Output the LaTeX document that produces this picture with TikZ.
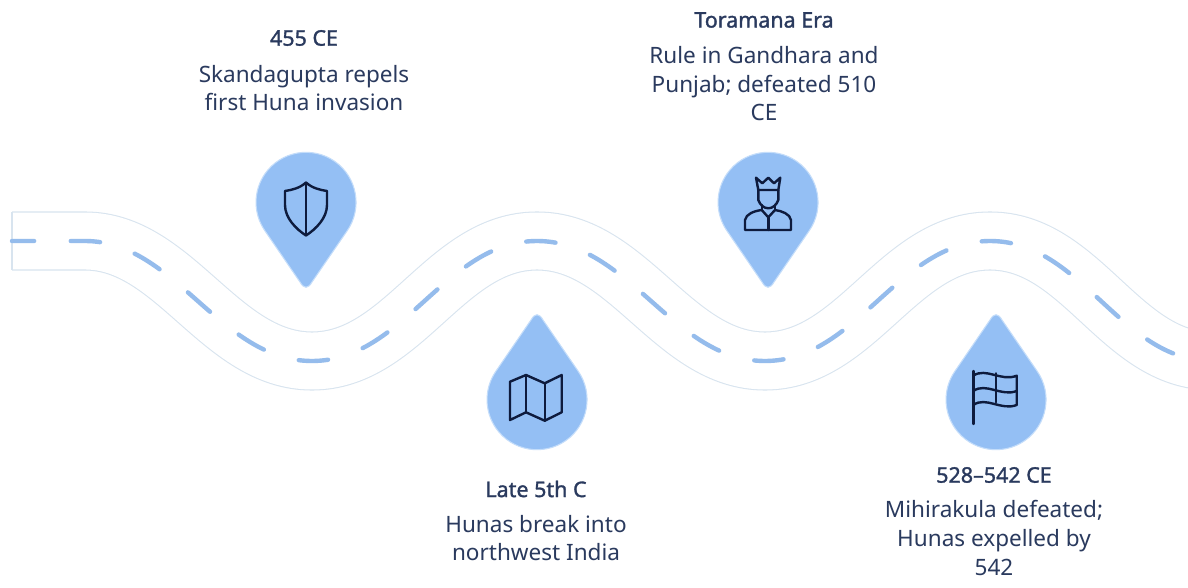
\documentclass[tikz,border=0pt]{standalone}
\usepackage{fontspec}
\setmainfont{Noto Sans}
\newfontfamily\headfont[FakeBold=1.4]{Noto Sans}
\usetikzlibrary{positioning}
\definecolor{pinblue}{HTML}{94BFF4}
\definecolor{pinrim}{HTML}{C4DDFA}
\definecolor{dashblue}{HTML}{95BCEC}
\definecolor{roadrim}{HTML}{D8E4EF}
\definecolor{inkdark}{HTML}{0E1B3D}
\definecolor{txt}{HTML}{2A3A5E}
\tikzset{
    pin/.pic={
        \draw[pinrim, fill=pinblue, line width=0.8pt] (41,29) arc (35:-215:50) -- (-6,80) .. controls (-2,87) and (2,87) .. (6,80) -- cycle;
    },
    shieldicon/.pic={
        \draw[icon] (0,-19.5) .. controls (-6,-14) and (-14,-12) .. (-21,-11) -- (-21,3) .. controls (-21,16) and (-10,27) .. (0,33.5) .. controls (10,27) and (21,16) .. (21,3) -- (21,-11) .. controls (14,-12) and (6,-14) .. (0,-19.5) -- cycle;
        \draw[icon] (0,-19.5) -- (0,33.5);
    },
    kingicon/.pic={
        \draw[icon] (-9.7,-12) -- (-12,-24.3) -- (-5.7,-18.7) -- (0.3,-24.3) -- (6,-18.7) -- (12.3,-24.3) -- (10.3,-12) -- cycle;
        \draw[icon] (-9.7,-12) -- (-9.7,-2) .. controls (-8,3) and (-4,6.3) .. (0.3,6.3) .. controls (4.6,6.3) and (8.6,3) .. (10.3,-2) -- (10.3,-12);
        \draw[icon] (-23,28) -- (-23,18) .. controls (-22,12) and (-14,9) .. (-6.3,8) -- (0.3,15.3) -- (7,8) .. controls (14,9) and (22,12) .. (23,18) -- (23,28) -- cycle;
        \draw[icon] (0.3,15.3) -- (0.3,28);
        \draw[icon] (-6.3,8) -- (-6.3,3) (7,8) -- (7,3);
    },
    mapicon/.pic={
        \draw[icon] (-27,-18.3) -- (-11,-25) -- (7.7,-16.7) -- (24.7,-25) -- (24.7,12.3) -- (7.7,20.7) -- (-11,12.3) -- (-27,20) -- cycle;
        \draw[icon] (-11,-25) -- (-11,12.3) (7.7,-16.7) -- (7.7,20.7);
    },
    flagicon/.pic={
        \draw[icon] (-22.7,-29) -- (-22.7,24);
        \draw[icon] (-22.7,-24.3) .. controls (-10,-33) and (5,-18) .. (20.7,-24.3) -- (20.7,5);
        \draw[icon] (-22.7,-9) .. controls (-10,-18) and (5,-3) .. (20.7,-9);
        \draw[icon] (-22.7,5) .. controls (-10,-4) and (5,11) .. (20.7,5);
        \draw[icon] (-0.3,-26.7) -- (-0.3,2.3);
    },
}
\begin{document}
\begin{tikzpicture}[
    x=0.75pt, y=-0.75pt,
    icon/.style={inkdark, line width=1.8pt, line join=round, line cap=round},
    road/.style={roadrim, line width=0.8pt, double=white, double distance=42.7pt},
    lane/.style={dashblue, line width=3.3pt, line cap=round, dash pattern=on 22pt off 27.5pt, dash phase=5.4pt},
    head/.style={font=\fontsize{16.1}{20}\headfont, text=txt, inner sep=0pt, align=center},
    body/.style={font=\fontsize{16.9}{21.4}\selectfont, text=txt, inner sep=0pt, align=center},
]
\clip (0,0) rectangle (1188,588);
\fill[white] (0,0) rectangle (1188,588);

% road
\draw[road] (12,241) -- (85,241) .. controls (175,241) and (220,361) .. (312,361) .. controls (404,361) and (445,241) .. (537,241) .. controls (629,241) and (673,361) .. (765,361) .. controls (857,361) and (898,241) .. (990,241) .. controls (1082,241) and (1120,361) .. (1212,361);
\draw[roadrim, line width=0.8pt] (12,212) -- (12,270);
\draw[lane] (12,241) -- (85,241) .. controls (175,241) and (220,361) .. (312,361) .. controls (404,361) and (445,241) .. (537,241) .. controls (629,241) and (673,361) .. (765,361) .. controls (857,361) and (898,241) .. (990,241) .. controls (1082,241) and (1120,361) .. (1212,361);

% pins
\pic at (306,202) {pin};
\pic at (306,202) {shieldicon};
\pic at (768,202) {pin};
\pic at (768,202) {kingicon};
\pic[yscale=-1] at (537,400) {pin};
\pic at (537,400) {mapicon};
\pic[yscale=-1] at (996,400) {pin};
\pic at (996,400) {flagicon};

% labels
\node[head] (hskanda) at (304,38) {455 CE};
\node[body] (tskanda) at (304,88) {Skandagupta repels\\first Huna invasion};
\node[head] (htora) at (764,20) {Toramana Era};
\node[body] (ttora) at (764,84) {Rule in Gandhara and\\Punjab; defeated 510\\CE};
\node[head] (hlate) at (536,489) {Late 5th C};
\node[body] (tlate) at (536,538) {Hunas break into\\northwest India};
\node[head] (hmihi) at (994,475) {528–542 CE};
\node[body] (tmihi) at (994,538) {Mihirakula defeated;\\Hunas expelled by\\542};
\end{tikzpicture}
\end{document}
